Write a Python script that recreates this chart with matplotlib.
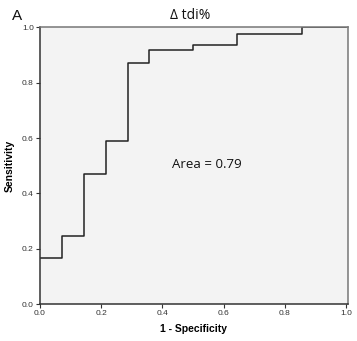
import matplotlib.pyplot as plt

# ROC step curve
fpr = [0.0, 0.071, 0.071, 0.143, 0.143, 0.214, 0.214, 0.286, 0.286, 0.357, 0.357,
       0.5, 0.5, 0.643, 0.643, 0.857, 0.857, 1.0]
tpr = [0.167, 0.167, 0.246, 0.246, 0.469, 0.469, 0.591, 0.591, 0.872, 0.872, 0.92,
       0.92, 0.936, 0.936, 0.977, 0.977, 1.0, 1.0]
ticks = [0.0, 0.2, 0.4, 0.6, 0.8, 1.0]
tick_labels = ['0.0', '0.2', '0.4', '0.6', '0.8', '1.0']

fig = plt.figure(figsize=(3.57, 3.41), dpi=100)
ax = fig.add_axes([0.112, 0.108, 0.862, 0.814])
ax.set_facecolor('#f3f3f3')

ax.plot(fpr, tpr, color='#222222', lw=1.1)
ax.set_xlim(0, 1.005)
ax.set_ylim(0, 1.003)

ax.set_xticks(ticks)
ax.set_xticklabels(tick_labels, family='Liberation Sans')
ax.set_yticks(ticks)
ax.set_yticklabels(tick_labels, family='Liberation Sans')
ax.tick_params(direction='out', length=3, width=0.8, labelsize=6,
               colors='#333333', pad=1.5)

for side in ['left', 'bottom']:
    ax.spines[side].set_color('#333333')
    ax.spines[side].set_linewidth(1.1)
for side in ['top', 'right']:
    ax.spines[side].set_color('#777777')
    ax.spines[side].set_linewidth(1.1)

ax.set_xlabel('1 - Specificity', fontsize=7.5, fontweight='bold',
              family='Liberation Sans', labelpad=5)
ax.set_ylabel('Sensitivity', fontsize=7.5, fontweight='bold',
              family='Liberation Sans', labelpad=5)

ax.text(0.545, 0.505, 'Area = 0.79', fontsize=9.5, family='Open Sans',
        ha='center', va='center', color='#111111')
fig.text(0.532, 0.956, 'Δ tdi%', fontsize=10, family='Open Sans',
         ha='center', va='center', color='#111111')
fig.text(0.048, 0.952, 'A', fontsize=11, family='Liberation Sans',
         ha='center', va='center', color='#111111')

plt.savefig('out.png', dpi=100)
